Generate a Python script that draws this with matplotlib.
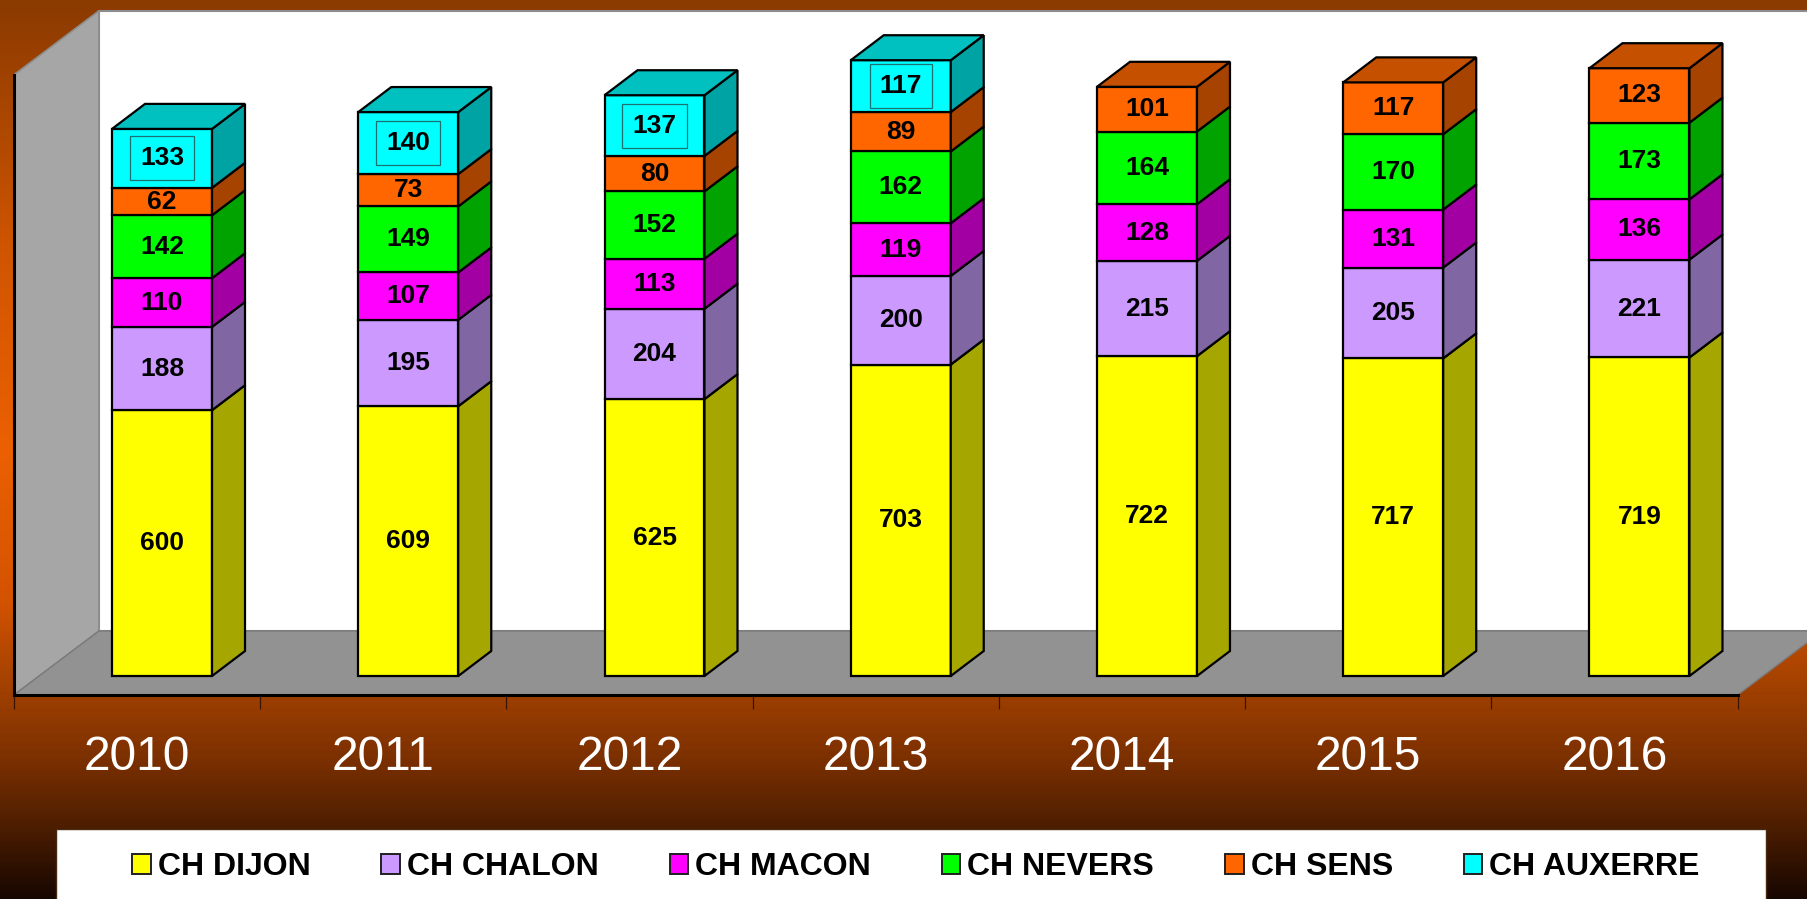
import numpy as np
import matplotlib
matplotlib.use('Agg')
import matplotlib.pyplot as plt
from matplotlib.patches import Polygon, Rectangle, Patch
from matplotlib.colors import LinearSegmentedColormap

# ---------------- data ----------------
years = ['2010', '2011', '2012', '2013', '2014', '2015', '2016']
series_names = ['CH DIJON', 'CH CHALON', 'CH MACON', 'CH NEVERS', 'CH SENS', 'CH AUXERRE']
dijon = [600, 609, 625, 703, 722, 717, 719]
chalon = [188, 195, 204, 200, 215, 205, 221]
macon = [110, 107, 113, 119, 128, 131, 136]
nevers = [142, 149, 152, 162, 164, 170, 173]
sens = [62, 73, 80, 89, 101, 117, 123]
auxerre = [133, 140, 137, 117, 0, 0, 0]
series = [dijon, chalon, macon, nevers, sens, auxerre]

front_colors = ['#FFFF00', '#CC99FF', '#FF00FF', '#00FF00', '#FF6600', '#00FFFF']
side_colors = ['#A6A600', '#8066A3', '#A300A3', '#00A300', '#A64300', '#00A3A3']
top_colors = ['#CCCC00', '#A37ACC', '#C800C8', '#00C800', '#C45000', '#00C0C0']

# ---------------- geometry (pixels) ----------------
W, H, DPI = 1807, 899, 100
PLANE_LEFT = 38.9          # x of category -0.5 on bar front plane
PLANE_WIDTH = 1723.7
ZERO_Y = 676               # pixel row of value 0 on bar front plane
PX_PER_VAL = 0.443
YMAX = 1400
FLOOR_SHIFT = (-25, 19)    # from bar plane to front plane of the box
DEPTH = (85, 64)           # full box depth
BAR_DEPTH = (33, 25)
BAR_W = 0.406

FONT = 'Liberation Sans'

fig = plt.figure(figsize=(W / DPI, H / DPI), dpi=DPI)

# background gradient
bg = fig.add_axes([0, 0, 1, 1], zorder=-10)
stops = [(0.0, '#8B3A00'), (250 / H, '#D05500'), (450 / H, '#EC6000'),
         (600 / H, '#D45300'), (690 / H, '#A04000'), (760 / H, '#7C3000'),
         (830 / H, '#4C1D00'), (1.0, '#180700')]
cmap = LinearSegmentedColormap.from_list('bg', stops)
bg.imshow(np.linspace(0, 1, H).reshape(-1, 1), aspect='auto', cmap=cmap,
          extent=[0, 1, 0, 1], origin='upper')
bg.set_axis_off()

ax_h = YMAX * PX_PER_VAL / H
# front plane of the 3D box (floor/walls, axis line, ticks, year labels)
ax2 = fig.add_axes([(PLANE_LEFT + FLOOR_SHIFT[0]) / W,
                    (H - ZERO_Y - FLOOR_SHIFT[1]) / H,
                    PLANE_WIDTH / W, ax_h], zorder=1)
# bar front plane
ax = fig.add_axes([PLANE_LEFT / W, (H - ZERO_Y) / H, PLANE_WIDTH / W, ax_h], zorder=2)

n = len(years)
for a in (ax, ax2):
    a.set_xlim(-0.5, n - 0.5)
    a.set_ylim(0, YMAX)
    a.set_facecolor('none')

cat_per_px = n / PLANE_WIDTH
val_per_px = 1 / PX_PER_VAL
Dx, Dy = DEPTH[0] * cat_per_px, DEPTH[1] * val_per_px
bdx, bdy = BAR_DEPTH[0] * cat_per_px, BAR_DEPTH[1] * val_per_px

x0, x1 = -0.5, n - 0.5
# back wall
ax2.add_patch(Polygon([(x0 + Dx, Dy), (x1 + 2, Dy), (x1 + 2, YMAX + Dy), (x0 + Dx, YMAX + Dy)],
                      closed=True, fc='white', ec='#8C8C8C', lw=1.5, clip_on=False, zorder=1))
# left wall
ax2.add_patch(Polygon([(x0, 0), (x0, YMAX), (x0 + Dx, YMAX + Dy), (x0 + Dx, Dy)],
                      closed=True, fc='#A6A6A6', ec='#8C8C8C', lw=1.2, clip_on=False, zorder=2))
# floor
ax2.add_patch(Polygon([(x0, 0), (x1, 0), (x1 + Dx, Dy), (x0 + Dx, Dy)],
                      closed=True, fc='#929292', ec='#7A7A7A', lw=1.0, clip_on=False, zorder=2))

for s in ['top', 'right']:
    ax2.spines[s].set_visible(False)
for s in ['left', 'bottom']:
    ax2.spines[s].set_color('black')
    ax2.spines[s].set_linewidth(2.2)
    ax2.spines[s].set_zorder(5)
ax2.set_yticks([])
ax2.set_xticks(np.arange(n))
ax2.set_xticklabels(years, color='white', fontsize=34.5, family=FONT)
ax2.set_xticks(np.arange(-0.5, n, 1), minor=True)
ax2.tick_params(axis='x', which='major', length=0, pad=29)
ax2.tick_params(axis='x', which='minor', length=10, width=0.9, color='#3A1400', direction='out')

ax.set_axis_off()

# bars
for i in range(n):
    bottom = 0
    present = [j for j in range(len(series)) if series[j][i] > 0]
    for j in present:
        v = series[j][i]
        left, right = i - BAR_W / 2, i + BAR_W / 2
        ax.bar(i, v, bottom=bottom, width=BAR_W, color=front_colors[j],
               edgecolor='black', linewidth=1.6, clip_on=False, zorder=3)
        ax.add_patch(Polygon([(right, bottom), (right + bdx, bottom + bdy),
                              (right + bdx, bottom + v + bdy), (right, bottom + v)],
                             closed=True, fc=side_colors[j], ec='black', lw=1.6,
                             clip_on=False, zorder=3))
        if j == present[-1]:
            t = bottom + v
            ax.add_patch(Polygon([(left, t), (right, t), (right + bdx, t + bdy), (left + bdx, t + bdy)],
                                 closed=True, fc=top_colors[j], ec='black', lw=1.6,
                                 clip_on=False, zorder=3))
        kw = dict(ha='center', va='center', fontsize=19, fontweight='bold',
                  family=FONT, color='black', zorder=4)
        if j == 5:
            kw['bbox'] = dict(boxstyle='square,pad=0.38', fc='none', ec='#1F7070', lw=0.9)
        ax.text(i, bottom + v / 2, str(v), **kw)
        bottom += v

# legend box
fig.patches.append(Rectangle((56 / W, -0.01), (1766 - 56) / W, (H - 829) / H + 0.01,
                             transform=fig.transFigure, fc='white', ec='#4A2A10', lw=1.0,
                             zorder=3))
handles = [Patch(fc=c, ec='#202020', lw=1.4) for c in front_colors]
leg = fig.legend(handles, series_names, ncol=6, loc='center',
                 bbox_to_anchor=(916 / W, 1 - 867 / H), frameon=False,
                 prop={'family': FONT, 'weight': 'bold', 'size': 23},
                 handlelength=0.58, handleheight=0.58, handletextpad=0.22,
                 columnspacing=2.22, borderpad=0, borderaxespad=0)
leg.set_zorder(4)

fig.savefig('out.png', dpi=DPI)
